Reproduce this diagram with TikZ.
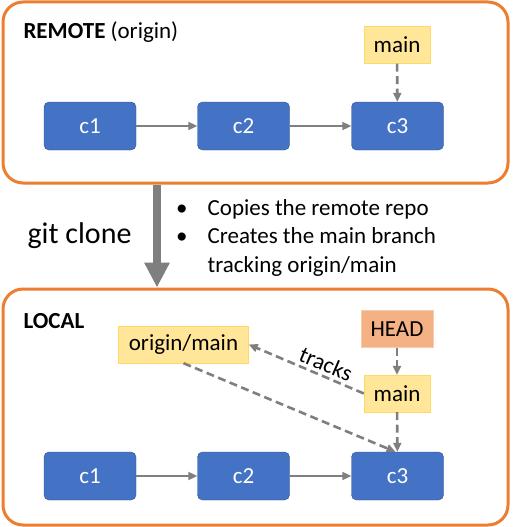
\documentclass[tikz,border=0pt]{standalone}
\usepackage{fontspec}
\setmainfont{Carlito}
\usetikzlibrary{arrows.meta,positioning}

\definecolor{frame}{HTML}{ED7D31}
\definecolor{commitfill}{HTML}{4472C4}
\definecolor{commitline}{HTML}{2F528F}
\definecolor{branchfill}{HTML}{FFE699}
\definecolor{branchline}{HTML}{FFD966}
\definecolor{headfill}{HTML}{F4B183}
\definecolor{headline}{HTML}{F8CBAD}
\definecolor{arrowgray}{HTML}{7F7F7F}

\tikzset{area/.style={draw=frame, line width=3pt, rounded corners=20pt, minimum width=505pt},
         commit/.style={draw=commitline, fill=commitfill, text=white, rounded corners=5pt, minimum width=92pt, minimum height=48pt, font=\fontsize{23}{27}\selectfont},
         branch/.style={draw=branchline, fill=branchfill, minimum height=37pt, font=\fontsize{23}{27}\selectfont},
         headbox/.style={branch, draw=headline, fill=headfill},
         link/.style={draw=arrowgray, line width=2pt, -{Triangle[length=9pt, width=8pt]}},
         ptr/.style={link, line width=2.6pt, dash pattern=on 8pt off 4.5pt}}

\begin{document}
\begin{tikzpicture}[x=1pt, y=-1pt]
    \useasboundingbox (0,0) rectangle (512,527);

    % remote repository
    \node[area, minimum height=181pt] (remote) at (255.5,92.5) {};
    \node[anchor=base west, font=\fontsize{23}{27}\selectfont] (remote_label) at (20,39) {\textbf{REMOTE} (origin)};

    \node[commit] (rc1) at (90,126) {c1};
    \node[commit] (rc2) at (243.5,126) {c2};
    \node[commit] (rc3) at (397.5,126) {c3};
    \node[branch, minimum width=66pt] (rmain) at (397,45) {main};

    \draw[link] (rc1) -- (rc2);
    \draw[link] (rc2) -- (rc3);
    \draw[ptr] (rmain) -- (rc3);

    % local repository
    \node[area, minimum height=236pt] (local) at (255.5,407) {};
    \node[anchor=base west, font=\fontsize{23}{27}\selectfont\bfseries] (local_label) at (20,328) {LOCAL};

    \node[commit] (lc1) at (90,476) {c1};
    \node[commit] (lc2) at (243.5,476) {c2};
    \node[commit] (lc3) at (397.5,476) {c3};
    \node[headbox, minimum width=72pt] (head) at (397,329) {HEAD};
    \node[branch, minimum width=66pt] (lmain) at (397,393.5) {main};
    \node[branch, minimum width=130pt] (origin) at (183.5,344.5) {origin/main};

    \draw[link] (lc1) -- (lc2);
    \draw[link] (lc2) -- (lc3);
    \draw[ptr] (head) -- (lmain);
    \draw[ptr] (lmain) -- (lc3);
    \draw[ptr] (lmain.west) -- node[pos=0.37, sloped, above, inner sep=3pt, font=\fontsize{23}{27}\selectfont] (tracks) {tracks} (origin.east);
    \draw[ptr] (origin.south) -- ([xshift=-2pt]lc3.north);

    % clone step
    \coordinate (clone_top) at (157,0);
    \draw[draw=arrowgray, line width=8pt, -{Triangle[length=25pt, width=24pt]}] (remote.south -| clone_top) -- (local.north -| clone_top);
    \node[anchor=base east, font=\fontsize{30}{35}\selectfont] (clone) at (135,243) {git clone};
    \node[anchor=base west, inner sep=0pt, font=\fontsize{23}{28.5}\selectfont] (notes) at (176,215)
        {\begin{tabular}[t]{@{}l@{\hspace{20pt}}l@{}}
         \textbullet & Copies the remote repo\\
         \textbullet & Creates the main branch\\
                     & tracking origin/main
         \end{tabular}};
\end{tikzpicture}
\end{document}
